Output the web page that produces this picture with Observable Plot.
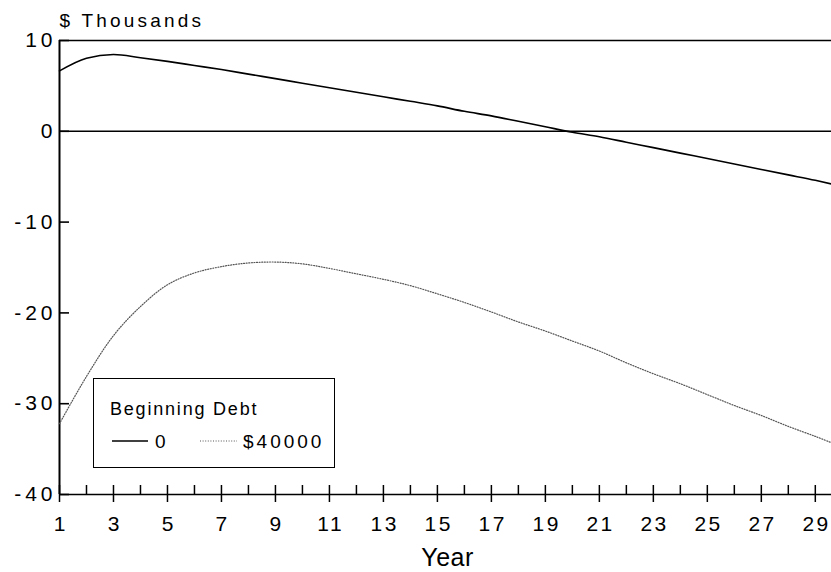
<!DOCTYPE html>
<html>
<head>
<meta charset="utf-8">
<script src="https://cdn.jsdelivr.net/npm/d3@7"></script>
<script src="https://cdn.jsdelivr.net/npm/@observablehq/plot@0.6"></script>
<style>
  body { margin: 0; background: #fff; }
  #wrap { position: relative; width: 831px; height: 572px; font-family: "Liberation Sans", Arial, sans-serif; }
  #legend { position: absolute; left: 93px; top: 378px; width: 240px; height: 88px; border: 1.5px solid #000; background: #fff; }
  #legend .title { position: absolute; left: 16px; top: 20px; font-size: 18px; letter-spacing: 1.8px; }
  #legend svg { position: absolute; left: 0; top: 0; }
</style>
</head>
<body>
<div id="wrap"></div>
<script>
// ---- data ----
const years = [1,2,3,4,5,6,7,8,9,10,11,12,13,14,15,16,17,18,19,20,21,22,23,24,25,26,27,28,29,29.6];
const debt0 = [6.65,8.05,8.45,8.1,7.7,7.25,6.8,6.3,5.8,5.3,4.8,4.3,3.8,3.3,2.8,2.2,1.7,1.1,0.5,-0.1,-0.6,-1.2,-1.8,-2.4,-3.0,-3.6,-4.2,-4.8,-5.4,-5.8];
const debt40000 = [-32.2,-27.0,-22.5,-19.3,-16.9,-15.6,-14.9,-14.5,-14.4,-14.6,-15.1,-15.7,-16.3,-17.0,-17.9,-18.85,-19.9,-21.0,-22.0,-23.1,-24.2,-25.5,-26.7,-27.8,-29.0,-30.2,-31.3,-32.5,-33.6,-34.3];
const yTicks = [10, 0, -10, -20, -30, -40];
const xMinorTicks = d3.range(1, 30);
const xMajorTicks = [1,3,5,7,9,11,13,15,17,19,21,23,25,27,29];
const seriesNames = ["0", "$40000"];
const frameRulesY = [10, 0, -40];
const yTitle = "$ Thousands";
const xTitle = "Year";

const rows0 = years.map((y, i) => ({year: y, value: debt0[i], series: seriesNames[0]}));
const rows1 = years.map((y, i) => ({year: y, value: debt40000[i], series: seriesNames[1]}));

const W = 831, H = 572, ML = 59, MR = 0, MT = 40, MB = 78;
const xDomain = [1, 29.6];

const chart = Plot.plot({
  width: W,
  height: H,
  marginLeft: ML,
  marginRight: MR,
  marginTop: MT,
  marginBottom: MB,
  style: {fontFamily: "'Liberation Sans', Arial, sans-serif", fontSize: "21px", color: "#000", background: "#fff", overflow: "visible"},
  x: {domain: xDomain},
  y: {domain: [-40, 10]},
  marks: [
    Plot.axisY({ticks: yTicks, tickSize: 0, tickPadding: 3, tickFormat: d => String(d), label: null, fontSize: 21}),
    Plot.axisY({ticks: yTicks, tickSize: -10, tickFormat: () => "", label: null, strokeWidth: 1.6}),
    Plot.axisX({ticks: xMinorTicks, tickSize: -9, tickFormat: () => "", label: null, strokeWidth: 1.5}),
    Plot.axisX({ticks: xMajorTicks, tickSize: 8, tickPadding: 14, tickFormat: d => String(d), label: null, strokeWidth: 1.5, fontSize: 21}),
    Plot.ruleY(frameRulesY, {stroke: "#000", strokeWidth: 1.5}),
    Plot.ruleX([xDomain[0]], {stroke: "#000", strokeWidth: 2}),
    Plot.line(rows1, {x: "year", y: "value", stroke: "#555", strokeWidth: 1.2, strokeDasharray: "1,1.6", curve: "catmull-rom"}),
    Plot.line(rows0, {x: "year", y: "value", stroke: "#000", strokeWidth: 1.6, curve: "monotone-x"}),
    Plot.text([yTitle], {frameAnchor: "top-left", textAnchor: "start", lineAnchor: "middle", dy: -19.5, fontSize: 19}),
    Plot.text([xTitle], {frameAnchor: "bottom", lineAnchor: "middle", dx: 2, dy: 63, fontSize: 25})
  ]
});

// letter-spacing to mimic the wide tracking of the original typeface
const svg = d3.select(chart);
svg.selectAll("g[aria-label='y-axis tick label'] text").style("letter-spacing", "4px");
svg.selectAll("g[aria-label='x-axis tick label'] text").style("letter-spacing", "2.5px").attr("dx", 1.25);
svg.selectAll("text").filter(function() { return this.textContent === yTitle; }).style("letter-spacing", "3.2px");
svg.selectAll("text").filter(function() { return this.textContent === xTitle; }).style("letter-spacing", "0.5px");

const wrap = document.getElementById("wrap");
wrap.appendChild(chart);

// legend
const legend = document.createElement("div");
legend.id = "legend";
legend.innerHTML = `
  <div class="title">Beginning Debt</div>
  <svg width="240" height="88">
    <line x1="18" x2="54" y1="62" y2="62" stroke="#000" stroke-width="1.6"/>
    <text x="61" y="69" font-size="19" style="letter-spacing:3px">${seriesNames[0]}</text>
    <line x1="106" x2="143" y1="62" y2="62" stroke="#555" stroke-width="1.2" stroke-dasharray="1,1.6"/>
    <text x="149" y="69" font-size="19" style="letter-spacing:3px">${seriesNames[1]}</text>
  </svg>`;
wrap.appendChild(legend);
</script>
</body>
</html>
